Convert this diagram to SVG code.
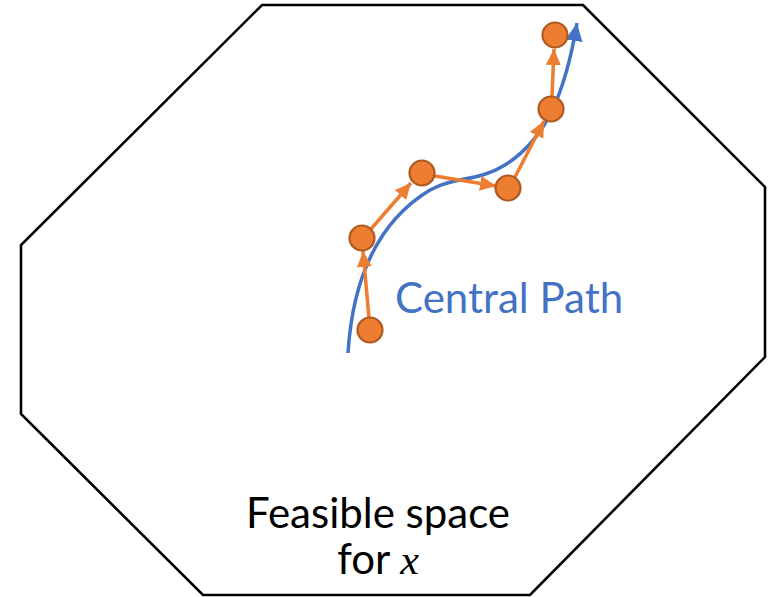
<svg xmlns="http://www.w3.org/2000/svg" width="780" height="597" viewBox="0 0 780 597">
<style>
.edge{fill:none;stroke:#000;stroke-width:2.6;stroke-linejoin:miter}
.path{fill:none;stroke:#4472C4;stroke-width:3.5}
.step{fill:none;stroke:#ED7D31;stroke-width:3.5}
.dot{fill:#ED7D31;stroke:#AE5A21;stroke-width:2.2}
.lbl{font-family:Lato,"Open Sans","Liberation Sans",sans-serif;font-size:42px}
</style>
<defs>
<marker id="ob" markerUnits="userSpaceOnUse" markerWidth="16" markerHeight="15" refX="16" refY="7.5" orient="auto" viewBox="0 0 16 15"><path d="M0,0 L16,7.5 L0,15 z" fill="#ED7D31"/></marker>
<marker id="bb" markerUnits="userSpaceOnUse" markerWidth="18" markerHeight="17" refX="18" refY="8.5" orient="auto" viewBox="0 0 18 17"><path d="M0,0 L18,8.5 L0,17 z" fill="#4472C4"/></marker>
</defs>
<rect width="780" height="597" fill="#fff"/>
<g id="feasible-space">
<polygon class="edge" points="262,5 583,5 765,187 765,357 530,595 203,595 21,414 21,245"/>
<text class="lbl" x="378" y="528" text-anchor="middle" fill="#000">Feasible space</text>
<text class="lbl" x="378" y="574" text-anchor="middle" fill="#000">for <tspan font-family="'Liberation Serif',serif" font-style="italic">x</tspan></text>
</g>
<g id="central-path">
<path class="path" d="M348,353 C352,290 372,225 430,190 C455,176 478,182 505,165 C545,140 565,95 577,23" marker-end="url(#bb)"/>
<text class="lbl" x="395" y="313" fill="#4472C4">Central Path</text>
</g>
<g id="connectors">
<line class="step" x1="369" y1="318" x2="363" y2="251" marker-end="url(#ob)"/>
<line class="step" x1="371" y1="229" x2="411" y2="183" marker-end="url(#ob)"/>
<line class="step" x1="435" y1="176" x2="496" y2="186" marker-end="url(#ob)"/>
<line class="step" x1="515" y1="177" x2="544" y2="121" marker-end="url(#ob)"/>
<line class="step" x1="552" y1="96" x2="554" y2="49" marker-end="url(#ob)"/>
</g>
<g id="p1"><circle class="dot" cx="370" cy="330" r="12.5"/></g>
<g id="p2"><circle class="dot" cx="362" cy="238" r="12.5"/></g>
<g id="p3"><circle class="dot" cx="422" cy="173" r="12.5"/></g>
<g id="p4"><circle class="dot" cx="508" cy="188" r="12.5"/></g>
<g id="p5"><circle class="dot" cx="551" cy="109" r="12.5"/></g>
<g id="p6"><circle class="dot" cx="555" cy="35" r="12.5"/></g>
</svg>
